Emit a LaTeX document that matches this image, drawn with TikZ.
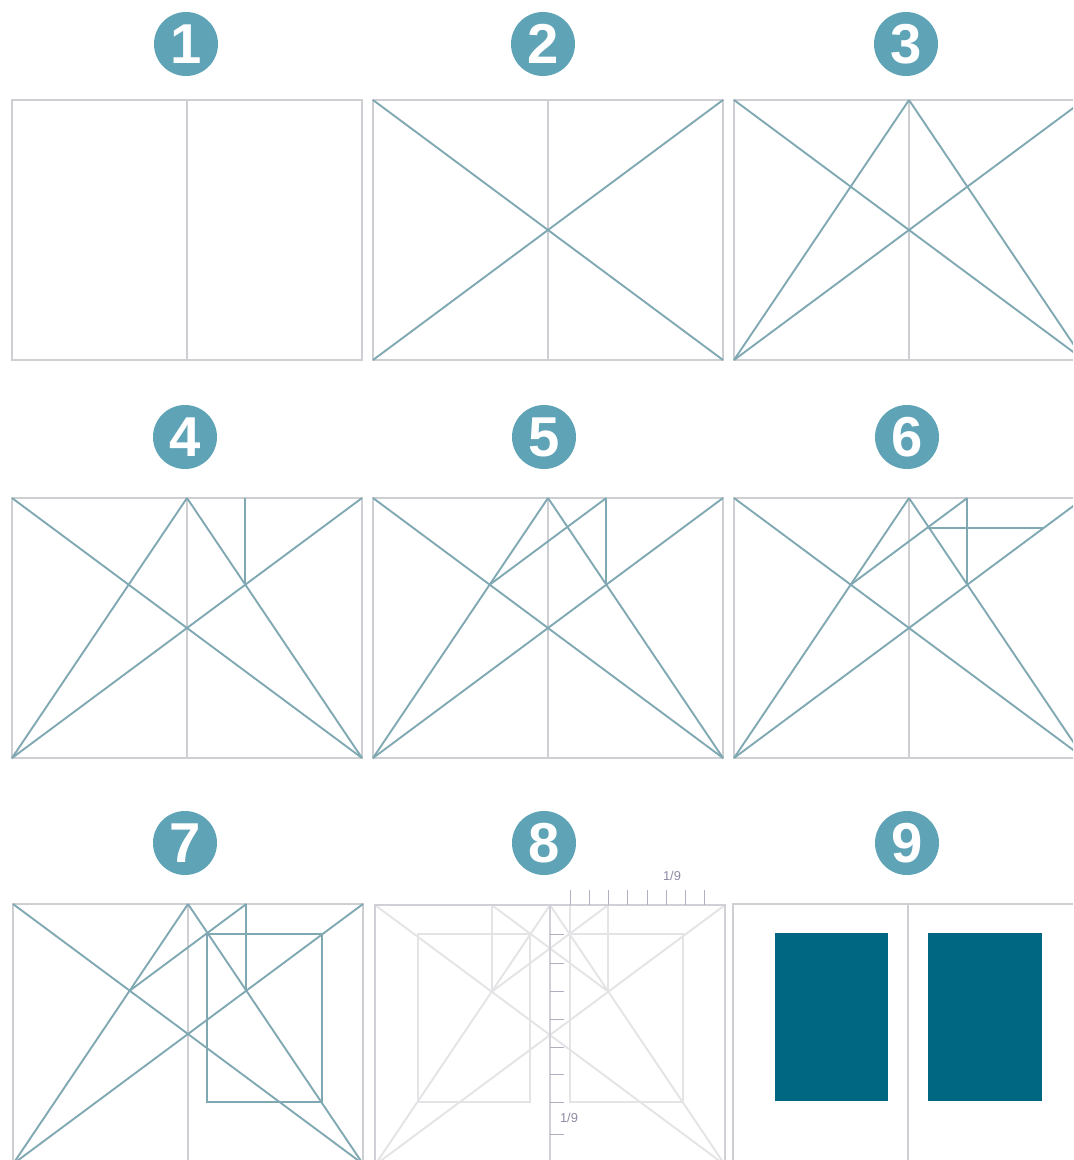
\documentclass[tikz,border=0pt]{standalone}
\usepackage{fontspec}
\setmainfont{Liberation Sans}
\usepackage{xcolor}
\definecolor{badgeblue}{HTML}{5FA3B7}
\definecolor{gridgrey}{HTML}{CDCFD3}
\definecolor{canonteal}{HTML}{7FA8B2}
\definecolor{blockteal}{HTML}{006783}
\definecolor{ghostgrey}{HTML}{E4E4E6}
\definecolor{rulegrey}{HTML}{D2CFD7}
\definecolor{tickviolet}{HTML}{8F8BA6}
\tikzset{
  badge/.style={circle, fill=badgeblue, minimum size=64*0.3mm, inner sep=0pt, text=white,
    font=\fontsize{48}{48}\selectfont\bfseries},
  gridline/.style={draw=gridgrey, line width=1.7pt},
  canonline/.style={draw=canonteal, line width=1.6pt},
  ghostline/.style={draw=ghostgrey, line width=1.6pt},
  ruleline/.style={draw=rulegrey, line width=1.8pt},
  tickline/.style={draw=tickviolet!70, line width=0.7pt},
  ticklabel/.style={text=tickviolet, font=\fontsize{11}{11}\selectfont, inner sep=0pt}
}
% points of one double page, relative to its top left corner
\newcommand{\canonpoints}{
  \coordinate (TL) at (0,0);
  \coordinate (TM) at (175,0);
  \coordinate (TR) at (350,0);
  \coordinate (BL) at (0,260);
  \coordinate (BM) at (175,260);
  \coordinate (BR) at (350,260);
  \coordinate (CC) at (175,130);
  \coordinate (LX) at (116.7,86.7);
  \coordinate (RX) at (233.3,86.7);
  \coordinate (UP) at (233.3,0);
  \coordinate (QL) at (194,30);
  \coordinate (QR) at (309,30);
  \coordinate (QB) at (194,198);
  \coordinate (QC) at (309,198);
}
\begin{document}
\begin{tikzpicture}[x=0.3mm, y=-0.3mm]
\clip (0,0) rectangle (1073,1160);
\fill[white] (0,0) rectangle (1073,1160);

% numbers
\foreach \num/\bx/\by in {1/186/44, 2/543/44, 3/906/44, 4/185/437, 5/544/437, 6/907/437, 7/185/843, 8/544/843, 9/907/843}
  \node[badge] (badge\num) at (\bx,\by) {\num};

% pages 1 to 7
\foreach \stage/\px/\py in {1/12/100, 2/373/100, 3/734/100, 4/12/498, 5/373/498, 6/734/498, 7/13/904} {
  \begin{scope}[shift={(\px,\py)}]
    \canonpoints
    \draw[gridline] (TL) rectangle (BR);
    \draw[gridline] (TM) -- (BM);
    \ifnum\stage>1
      \draw[canonline] (TL) -- (BR);
      \draw[canonline] (TR) -- (BL);
    \fi
    \ifnum\stage>2
      \draw[canonline] (TM) -- (BL);
      \draw[canonline] (TM) -- (BR);
    \fi
    \ifnum\stage>3
      \draw[canonline] (UP) -- (RX);
    \fi
    \ifnum\stage>4
      \draw[canonline] (UP) -- (LX);
    \fi
    \ifnum\stage=6
      \draw[canonline] (QL) -- (QR);
    \fi
    \ifnum\stage=7
      \draw[canonline] (QL) -- (QR) -- (QC) -- (QB) -- cycle;
    \fi
  \end{scope}
}

% page 8, with the construction faded
\begin{scope}[shift={(375,905)}]
  \canonpoints
  \draw[ghostline] (TL) -- (BR);
  \draw[ghostline] (TR) -- (BL);
  \draw[ghostline] (TM) -- (BL);
  \draw[ghostline] (TM) -- (BR);
  \draw[ghostline] (UP) -- (RX);
  \draw[ghostline] (UP) -- (LX);
  \draw[ghostline] (LX |- TL) -- (LX);
  \draw[ghostline] (LX |- TL) -- (RX);
  \draw[ghostline] (43,29) rectangle (155,197);
  \draw[ghostline] (195,29) rectangle (308,197);
  \draw[ghostline] (195,0) -- (195,197);
  \draw[ruleline] (TL) rectangle (BR);
  \draw[ruleline] (TM) -- (BM);
  % ruler along the top
  \foreach \tx in {195,214,233,252,272,291,310,329}
    \draw[tickline] (\tx,0) -- (\tx,-15);
  \node[ticklabel] (topfrac) at (297,-29) {1/9};
  % ruler down the middle
  \foreach \ty in {29,58,86,114,142,169,197,229}
    \draw[tickline] (175,\ty) -- (189,\ty);
  \node[ticklabel] (sidefrac) at (194,213) {1/9};
\end{scope}

% page 9, the text blocks
\begin{scope}[shift={(733,904)}]
  \canonpoints
  \draw[gridline] (TL) rectangle (BR);
  \draw[gridline] (TM) -- (BM);
  \fill[blockteal] (42,29) rectangle (155,197);
  \fill[blockteal] (195,29) rectangle (309,197);
\end{scope}
\end{tikzpicture}
\end{document}
